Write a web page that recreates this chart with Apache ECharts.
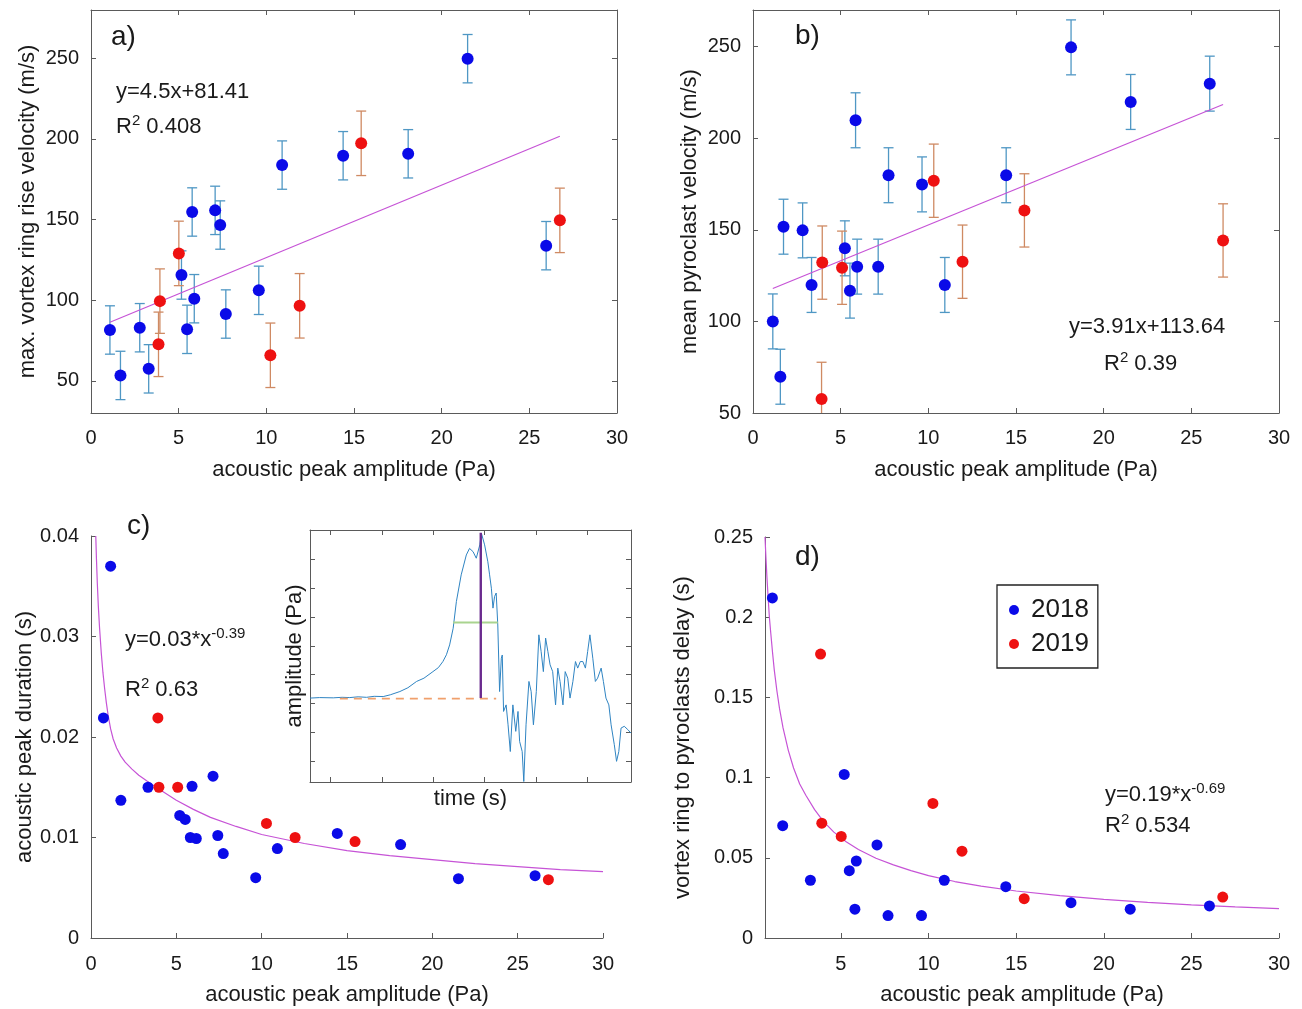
<!DOCTYPE html>
<html>
<head>
<meta charset="utf-8">
<title>acoustic peak amplitude vs vortex ring / pyroclast</title>
<script src="https://cdn.jsdelivr.net/npm/echarts@6/dist/echarts.min.js"></script>
<style>
  html, body { margin: 0; padding: 0; background: #fff; }
  #main { width: 1302px; height: 1009px; }
</style>
</head>
<body>
<div id="main"></div>
<script>
// a) max. vortex ring rise velocity (m/s) vs acoustic peak amplitude (Pa)
var riseBlue = [[1.08,81.5],[1.68,53.3],[2.78,82.9],[3.29,57.4],[5.16,115.6],[5.48,81.9],[5.77,154.7],[5.89,100.9],
                [7.08,155.7],[7.37,146.6],[7.69,91.4],[9.57,106.1],[10.9,183.8],[14.38,189.6],[18.09,190.8],[21.48,249.8],[25.96,133.8]]
var riseRed = [[3.85,72.6],[3.93,99.4],[5.01,129],[10.23,65.8],[11.9,96.5],[15.41,197.3],[26.74,149.5]]
var riseFit = [[1.08,86.3],[26.74,201.7]]

// b) mean pyroclast velocity (m/s)
var pyroBlue = [[1.13,100],[1.56,69.8],[1.74,151.7],[2.83,149.7],[3.34,119.9],[5.24,139.9],[5.53,116.8],[5.85,209.8],
                [5.94,129.9],[7.14,129.9],[7.73,179.8],[9.64,174.8],[10.94,119.9],[14.44,179.8],[18.14,249.6],[21.54,219.8],[26.05,229.8]]
var pyroRed = [[3.91,57.7],[3.95,132.1],[5.08,129.3],[10.31,176.8],[11.95,132.6],[15.48,160.6],[26.81,144.2]]
var pyroFit = [[1.13,118.0],[26.81,218.4]]

// error bar half widths (m/s)
var errBlue = 15
var errRed = 20

// c) acoustic peak duration (s)
var durBlue = [[0.73,0.0219],[1.15,0.0370],[1.75,0.0137],[3.34,0.0150],[5.2,0.0122],[5.52,0.0118],[5.82,0.0100],[5.92,0.0151],
               [6.17,0.0099],[7.15,0.0161],[7.43,0.0102],[7.75,0.0084],[9.65,0.0060],[10.92,0.0089],[14.43,0.0104],
               [18.14,0.0093],[21.53,0.0059],[26.02,0.0062]]
var durRed = [[3.92,0.0219],[3.98,0.0150],[5.08,0.0150],[10.28,0.0114],[11.96,0.0100],[15.47,0.0096],[26.8,0.0058]]
var durFit = [[0.28,0.0400],[0.32,0.0377],[0.37,0.0353],[0.43,0.0330],[0.5,0.0309],[0.6,0.0284],[0.7,0.0264],
              [0.8,0.0248],[0.9,0.0234],[1.0,0.0222],[1.15,0.0208],[1.3,0.0198],[1.5,0.0189],[1.75,0.0181],
              [2.0,0.0175],[2.4,0.0168],[2.8,0.0162],[3.3,0.0156],[4.0,0.0148],[5,0.0137],[6,0.0128],[7,0.0120],
              [8.5,0.0111],[10,0.0103],[12.5,0.0094],[15,0.0087],[17.5,0.0082],[20,0.0078],[22.5,0.0074],
              [25,0.0071],[27.5,0.0068],[30,0.0066]]

// d) vortex ring to pyroclasts delay (s)
var delayBlue = [[1.09,0.212],[1.68,0.070],[3.26,0.036],[5.19,0.102],[5.48,0.042],[5.80,0.018],[5.88,0.048],[7.06,0.058],
                 [7.69,0.014],[9.6,0.014],[10.9,0.036],[14.41,0.032],[18.13,0.022],[21.51,0.018],[26.03,0.020]]
var delayRed = [[3.84,0.177],[3.91,0.0716],[5.02,0.0633],[10.25,0.0839],[11.91,0.0541],[15.46,0.0245],[26.79,0.0255]]
var delayFit = [[0.67,0.25],[0.72,0.238],[0.78,0.225],[0.85,0.212],[0.92,0.200],[1.0,0.19],[1.1,0.178],[1.2,0.167],
                [1.35,0.154],[1.5,0.143],[1.7,0.131],[2.0,0.117],[2.3,0.106],[2.65,0.096],[3,0.089],[3.5,0.080],
                [4,0.0727],[4.6,0.0660],[5.3,0.0600],[6,0.0552],[7,0.0497],[8,0.0456],[9,0.0420],[10,0.0389],
                [11.5,0.0352],[13,0.0323],[15,0.0293],[17.5,0.0264],[20,0.0241],[22.5,0.0222],[25,0.0207],
                [27.5,0.0194],[30,0.0183]]

// inset: example acoustic waveform (arbitrary units, no tick values)
var wave = [[0,33.3],[3,33.5],[7.25,33.4],[10,33.6],[12.4,33.5],[15,33.8],[17.6,33.6],[20,34.0],[22.8,33.9],[25,34.6],
            [28.0,35.9],[30.5,37.4],[33.2,39.9],[35.5,41.2],[38.3,43.8],[40,45.4],[41.4,47.8],[42.5,50.5],
            [43.5,54.4],[44.6,61.0],[45.6,71.6],[47.1,82.2],[48.7,90.1],[49.7,92.7],[50.8,91.4],[51.8,88.8],[52.9,94.1],
            [53.4,98.7],[54.4,94.1],[55.4,87.4],[55.95,82.2],[56.5,76.9],[57.0,69.0],[57.5,73.6],[58.0,75.0],[58.5,62.3],
            [59.06,35.9],[59.6,49.1],[59.9,50.4],[60.3,28.0],[61.1,30.6],[61.7,22.7],[62.4,12.1],[63.2,30.6],[64.1,20.1],
            [64.8,28.0],[65.3,16.1],[66.1,12.1],[66.6,0.2],[67.3,22.7],[68.2,39.9],[68.9,35.9],[69.6,22.7],[70.5,35.9],
            [71.3,58.4],[72.0,51.8],[72.7,43.8],[73.4,57.1],[74.1,51.8],[74.8,46.5],[75.6,43.8],[76.5,30.6],[77.2,45.2],
            [77.9,39.9],[78.8,30.6],[79.5,43.8],[80.3,41.2],[81.0,33.3],[81.9,39.9],[82.7,47.8],[83.4,45.2],[84.2,47.8],
            [85.0,47.8],[85.8,45.2],[86.5,51.8],[87.2,58.4],[88.1,49.1],[88.9,39.9],[89.6,41.2],[90.7,45.2],[91.4,39.9],
            [92.2,33.3],[93.1,30.6],[93.8,22.7],[94.8,14.8],[95.5,8.2],[96.2,12.1],[96.9,21.4],[97.9,22.1],[99.0,20.8],[100,19.4]]
var peakMark = [[53.2,33.3],[53.2,98.9]]
var halfWidth = [[44.6,63.3],[58.5,63.3]]
var baseLine = [[9.3,33.1],[58.0,33.1]]
var insetXTicks = [6.4,22.4,38.4,54.4,70.4,86.4]
var insetYTicks = [8.3,19.8,31.2,42.6,54.0,65.4,76.9,88.4]

var FONT = '"Liberation Sans", Arial, Helvetica, sans-serif'
var TXT = '#1a1a1a'
var AX = '#5a5a5a'
var BLUE = '#0a0ae8'
var RED = '#ee1111'
var BAR_BLUE = '#4f97c4'
var BAR_RED = '#cf8a63'
var FIT = '#c653d6'

var axis = function(extra) {
    var a = {
        type: 'value',
        splitLine: {show: false},
        axisLine: {show: true, onZero: false, lineStyle: {color: AX, width: 1}},
        axisTick: {show: true, inside: true, length: 5, lineStyle: {color: AX}},
        axisLabel: {color: TXT, fontSize: 20, fontFamily: FONT, margin: 12},
        nameLocation: 'middle',
        nameTextStyle: {color: TXT, fontSize: 22, fontFamily: FONT}
    }
    for (var k in extra) {
        if (a[k] && typeof a[k] === 'object' && !Array.isArray(extra[k])) {
            a[k] = Object.assign({}, a[k], extra[k])
        } else {
            a[k] = extra[k]
        }
    }
    return a
}

var errorBars = function(data, err, color, xi, yi) {
    return {
        type: 'custom', xAxisIndex: xi, yAxisIndex: yi, clip: true, silent: true, z: 2,
        encode: {x: 0, y: 1},
        data: data,
        renderItem: function(params, api) {
            var x = api.value(0), y = api.value(1)
            var hi = api.coord([x, y + err])
            var lo = api.coord([x, y - err])
            var w = 5
            var st = {stroke: color, lineWidth: 1.3}
            return {type: 'group', children: [
                {type: 'line', shape: {x1: hi[0], y1: hi[1], x2: lo[0], y2: lo[1]}, style: st},
                {type: 'line', shape: {x1: hi[0] - w, y1: hi[1], x2: hi[0] + w, y2: hi[1]}, style: st},
                {type: 'line', shape: {x1: lo[0] - w, y1: lo[1], x2: lo[0] + w, y2: lo[1]}, style: st}
            ]}
        }
    }
}

var dots = function(name, data, color, size, xi, yi) {
    return {type: 'scatter', name: name, xAxisIndex: xi, yAxisIndex: yi, data: data,
            symbol: 'circle', symbolSize: size, itemStyle: {color: color, opacity: 1}, z: 4}
}

var fitLine = function(data, xi, yi) {
    return {type: 'line', xAxisIndex: xi, yAxisIndex: yi, data: data, showSymbol: false, smooth: false,
            lineStyle: {color: FIT, width: 1.2}, z: 3, silent: true}
}

var label = function(txt, x, y, size) {
    return {type: 'text', style: {text: txt, x: x, y: y, font: size + 'px ' + FONT, fill: TXT, verticalAlign: 'middle'}}
}

var rich = function(base, sup, tail, x, y) {
    return {type: 'text', x: x, y: y, style: {
        text: '{b|' + base + '}{s|' + sup + '}{b|' + tail + '}',
        verticalAlign: 'middle',
        rich: {
            b: {fontSize: 22, fontFamily: FONT, fill: TXT, color: TXT},
            s: {fontSize: 15, fontFamily: FONT, fill: TXT, color: TXT, padding: [0, 0, 12, 0]}
        }
    }}
}

var myChart = echarts.init(document.getElementById('main'))

var option = {
    animation: false,
    backgroundColor: '#fff',
    grid: [
        {left: 91, top: 10, width: 526, height: 403},
        {left: 753, top: 10, width: 526, height: 403},
        {left: 91, top: 536, width: 512, height: 402},
        {left: 765, top: 537, width: 514, height: 401},
        {left: 310, top: 530, width: 321, height: 252, show: true, backgroundColor: '#fff', borderWidth: 0, z: 5}
    ],
    xAxis: [
        axis({gridIndex: 0, min: 0, max: 30, interval: 5, name: 'acoustic peak amplitude (Pa)', nameGap: 46,
              axisLabel: {margin: 15}}),
        axis({gridIndex: 0, position: 'top', min: 0, max: 30, interval: 5, axisLabel: {show: false}}),
        axis({gridIndex: 1, min: 0, max: 30, interval: 5, name: 'acoustic peak amplitude (Pa)', nameGap: 46,
              axisLabel: {margin: 15}}),
        axis({gridIndex: 1, position: 'top', min: 0, max: 30, interval: 5, axisLabel: {show: false}}),
        axis({gridIndex: 2, min: 0, max: 30, interval: 5, name: 'acoustic peak amplitude (Pa)', nameGap: 46,
              axisLabel: {margin: 16}}),
        axis({gridIndex: 3, min: 0.67, max: 30, name: 'acoustic peak amplitude (Pa)', nameGap: 46,
              axisTick: {customValues: [5, 10, 15, 20, 25, 30]},
              axisLabel: {margin: 16, customValues: [5, 10, 15, 20, 25, 30]}}),
        axis({gridIndex: 4, min: 0, max: 100, name: 'time (s)', nameGap: 6, z: 6,
              axisTick: {customValues: insetXTicks}, axisLabel: {show: false}}),
        axis({gridIndex: 4, position: 'top', min: 0, max: 100, z: 6,
              axisTick: {customValues: insetXTicks}, axisLabel: {show: false}})
    ],
    yAxis: [
        axis({gridIndex: 0, min: 30, max: 280, name: 'max. vortex ring rise velocity (m/s)', nameGap: 52,
              axisTick: {customValues: [50, 100, 150, 200, 250]}, axisLabel: {customValues: [50, 100, 150, 200, 250]}}),
        axis({gridIndex: 0, position: 'right', min: 30, max: 280,
              axisTick: {customValues: [50, 100, 150, 200, 250]}, axisLabel: {show: false}}),
        axis({gridIndex: 1, min: 50, max: 270, name: 'mean pyroclast velocity (m/s)', nameGap: 52,
              axisTick: {customValues: [50, 100, 150, 200, 250]}, axisLabel: {customValues: [50, 100, 150, 200, 250]}}),
        axis({gridIndex: 1, position: 'right', min: 50, max: 270,
              axisTick: {customValues: [50, 100, 150, 200, 250]}, axisLabel: {show: false}}),
        axis({gridIndex: 2, min: 0, max: 0.04, interval: 0.01, name: 'acoustic peak duration (s)', nameGap: 55}),
        axis({gridIndex: 3, min: 0, max: 0.25, interval: 0.05, name: 'vortex ring to pyroclasts delay (s)', nameGap: 71}),
        axis({gridIndex: 4, min: 0, max: 100, name: 'amplitude (Pa)', nameGap: 4, z: 6,
              axisTick: {customValues: insetYTicks}, axisLabel: {show: false}}),
        axis({gridIndex: 4, position: 'right', min: 0, max: 100, z: 6,
              axisTick: {customValues: insetYTicks}, axisLabel: {show: false}})
    ],
    legend: {
        data: ['2018', '2019'],
        orient: 'vertical',
        left: 997, top: 585,
        padding: [12, 9, 11, 12],
        itemGap: 8,
        itemWidth: 20, itemHeight: 10,
        icon: 'circle',
        borderColor: '#222', borderWidth: 1.3,
        backgroundColor: '#fff',
        textStyle: {fontSize: 26, fontFamily: FONT, color: TXT, padding: [0, 0, 0, 2]},
        selectedMode: false
    },
    series: [
        // a
        errorBars(riseBlue, errBlue, BAR_BLUE, 0, 0),
        errorBars(riseRed, errRed, BAR_RED, 0, 0),
        fitLine(riseFit, 0, 0),
        dots('a2018', riseBlue, BLUE, 12, 0, 0),
        dots('a2019', riseRed, RED, 12, 0, 0),
        // b
        errorBars(pyroBlue, errBlue, BAR_BLUE, 2, 2),
        errorBars(pyroRed, errRed, BAR_RED, 2, 2),
        fitLine(pyroFit, 2, 2),
        dots('b2018', pyroBlue, BLUE, 12, 2, 2),
        dots('b2019', pyroRed, RED, 12, 2, 2),
        // c
        fitLine(durFit, 4, 4),
        dots('c2018', durBlue, BLUE, 11, 4, 4),
        dots('c2019', durRed, RED, 11, 4, 4),
        // d
        fitLine(delayFit, 5, 5),
        dots('2018', delayBlue, BLUE, 11, 5, 5),
        dots('2019', delayRed, RED, 11, 5, 5),
        // inset
        {type: 'line', xAxisIndex: 6, yAxisIndex: 6, data: wave, showSymbol: false, z: 6,
         lineStyle: {color: '#2f84c2', width: 1}},
        {type: 'line', xAxisIndex: 6, yAxisIndex: 6, data: baseLine, showSymbol: false, z: 6,
         lineStyle: {color: '#f0a06c', width: 1.6, type: [8, 6]}},
        {type: 'line', xAxisIndex: 6, yAxisIndex: 6, data: halfWidth, showSymbol: false, z: 6,
         lineStyle: {color: '#a9d48f', width: 2}},
        {type: 'line', xAxisIndex: 6, yAxisIndex: 6, data: peakMark, showSymbol: false, z: 7,
         lineStyle: {color: '#6a2a8e', width: 2.4}}
    ],
    graphic: [
        label('a)', 111, 37, 28),
        label('b)', 795, 36, 28),
        label('c)', 127, 526, 28),
        label('d)', 795, 557, 28),
        label('y=4.5x+81.41', 116, 92, 22),
        rich('R', '2', ' 0.408', 116, 127),
        label('y=3.91x+113.64', 1069, 327, 22),
        rich('R', '2', ' 0.39', 1104, 364),
        rich('y=0.03*x', '-0.39', '', 125, 640),
        rich('R', '2', ' 0.63', 125, 690),
        rich('y=0.19*x', '-0.69', '', 1105, 795),
        rich('R', '2', ' 0.534', 1105, 826)
    ]
}

myChart.setOption(option)
</script>
</body>
</html>
